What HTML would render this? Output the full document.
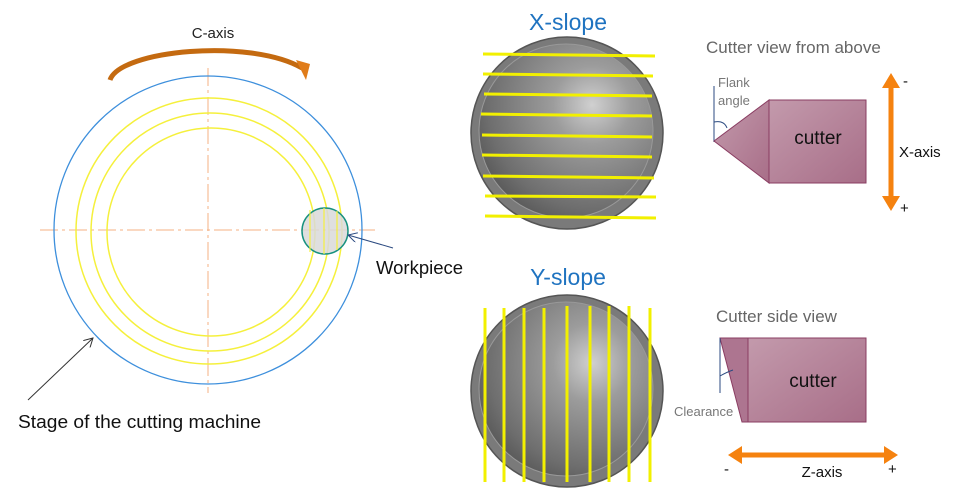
<!DOCTYPE html>
<html><head><meta charset="utf-8"><style>
html,body{margin:0;padding:0;background:#fff;}
svg{display:block;font-family:"Liberation Sans",sans-serif;}
</style></head><body>
<svg width="973" height="492" viewBox="0 0 973 492">
<defs>
<radialGradient id="sph" cx="0.65" cy="0.35" r="0.75">
<stop offset="0" stop-color="#d0d0d0"/><stop offset="0.3" stop-color="#9c9c9c"/><stop offset="0.8" stop-color="#6e6e6e"/><stop offset="1" stop-color="#555"/>
</radialGradient>
<linearGradient id="cut" x1="0" y1="0" x2="1" y2="1">
<stop offset="0" stop-color="#c39aac"/><stop offset="1" stop-color="#a86e88"/>
</linearGradient>
<marker id="ah" markerWidth="10" markerHeight="10" refX="9" refY="5" orient="auto" markerUnits="userSpaceOnUse">
<path d="M0,0 L9,5 L0,10" fill="none" stroke="#333" stroke-width="1"/></marker>
<marker id="ahb" markerWidth="10" markerHeight="10" refX="9" refY="5" orient="auto" markerUnits="userSpaceOnUse">
<path d="M0,0 L9,5 L0,10" fill="none" stroke="#2b4a80" stroke-width="1"/></marker>
</defs>
<line x1="208" y1="68" x2="208" y2="393" stroke="#f4b183" stroke-width="1" stroke-dasharray="18,4,3,4"/>
<line x1="40" y1="230" x2="375" y2="230" stroke="#f4b183" stroke-width="1" stroke-dasharray="18,4,3,4"/>
<circle cx="208" cy="230" r="154" fill="none" stroke="#3d8fdc" stroke-width="1.3"/>
<circle cx="209" cy="231" r="133" fill="none" stroke="#f5f03c" stroke-width="1.5"/>
<circle cx="210" cy="232" r="119" fill="none" stroke="#f5f03c" stroke-width="1.5"/>
<circle cx="211" cy="232" r="104" fill="none" stroke="#f5f03c" stroke-width="1.5"/>
<circle cx="325" cy="231" r="23" fill="#d9d9d9" fill-opacity="0.85" stroke="#18927f" stroke-width="1.5"/>
<line x1="310" y1="210" x2="310" y2="252" stroke="#f5f03c" stroke-width="1.2"/>
<line x1="324" y1="208" x2="324" y2="254" stroke="#f5f03c" stroke-width="1.2"/>
<line x1="337" y1="211" x2="337" y2="250" stroke="#f5f03c" stroke-width="1.2"/>
<path d="M110,80 C120,50 250,38 302,68" fill="none" stroke="#c46a10" stroke-width="5"/>
<path d="M296,60 L306,80 L310,64 Z" fill="#e07c1a"/>
<text x="213" y="38" font-size="15" text-anchor="middle" fill="#222">C-axis</text>
<line x1="393" y1="248" x2="348" y2="235" stroke="#2b4a80" stroke-width="1" marker-end="url(#ahb)"/>
<text x="376" y="274" font-size="18.5" fill="#111">Workpiece</text>
<line x1="28" y1="400" x2="93" y2="338" stroke="#333" stroke-width="1" marker-end="url(#ah)"/>
<text x="18" y="428" font-size="18.5" fill="#111" textLength="243" lengthAdjust="spacingAndGlyphs">Stage of the cutting machine</text>
<text x="568" y="30" font-size="23" text-anchor="middle" fill="#1f73c0">X-slope</text>
<circle cx="567" cy="133" r="96" fill="#7a7a7a" stroke="#555" stroke-width="1.5"/>
<circle cx="566" cy="131" r="87" fill="url(#sph)" stroke="#999"/>
<g stroke="#f2f000" stroke-width="3">
<line x1="483" y1="54" x2="655" y2="56"/><line x1="483" y1="74" x2="653" y2="76"/>
<line x1="484" y1="94" x2="652" y2="96"/><line x1="481" y1="114" x2="652" y2="116"/>
<line x1="482" y1="135" x2="652" y2="137"/><line x1="482" y1="155" x2="652" y2="157"/>
<line x1="483" y1="176" x2="654" y2="178"/><line x1="485" y1="196" x2="656" y2="197"/><line x1="485" y1="216" x2="656" y2="218"/>
</g>
<text x="706" y="53" font-size="17" fill="#666">Cutter view from above</text>
<text x="718" y="87" font-size="13" fill="#777">Flank</text>
<text x="718" y="105" font-size="13" fill="#777">angle</text>
<line x1="714" y1="86" x2="714" y2="142" stroke="#2b4a80" stroke-width="1"/>
<path d="M714,122 Q724,120 727,128" fill="none" stroke="#2b4a80" stroke-width="1"/>
<path d="M714,141 L769,100 L769,183 Z" fill="url(#cut)" stroke="#8a3d62" stroke-width="1"/>
<rect x="769" y="100" width="97" height="83" fill="url(#cut)" stroke="#8a3d62" stroke-width="1"/>
<text x="818" y="144" font-size="19" text-anchor="middle" fill="#111">cutter</text>
<line x1="891" y1="86" x2="891" y2="198" stroke="#f5820f" stroke-width="5"/>
<path d="M882,88 L891,73 L900,88 Z M882,196 L891,211 L900,196 Z" fill="#f5820f"/>
<text x="903" y="86" font-size="15" fill="#111">-</text>
<text x="900" y="213" font-size="15" fill="#111">+</text>
<text x="899" y="157" font-size="15" fill="#111">X-axis</text>
<text x="568" y="285" font-size="23" text-anchor="middle" fill="#1f73c0">Y-slope</text>
<circle cx="567" cy="391" r="96" fill="#7a7a7a" stroke="#555" stroke-width="1.5"/>
<circle cx="566" cy="389" r="87" fill="url(#sph)" stroke="#999"/>
<g stroke="#f2f000" stroke-width="3">
<line x1="485" y1="308" x2="485" y2="482"/><line x1="504" y1="308" x2="504" y2="482"/>
<line x1="524" y1="308" x2="524" y2="482"/><line x1="544" y1="308" x2="544" y2="482"/>
<line x1="567" y1="306" x2="567" y2="482"/><line x1="590" y1="306" x2="590" y2="482"/>
<line x1="609" y1="306" x2="609" y2="482"/><line x1="629" y1="306" x2="629" y2="482"/><line x1="650" y1="308" x2="650" y2="482"/>
</g>
<text x="716" y="322" font-size="17" fill="#666">Cutter side view</text>
<path d="M720,338 L748,338 L748,422 L742,422 Z" fill="#ad7590" stroke="#8a3d62" stroke-width="1"/>
<rect x="748" y="338" width="118" height="84" fill="url(#cut)" stroke="#8a3d62" stroke-width="1"/>
<line x1="720" y1="338" x2="720" y2="393" stroke="#2b4a80" stroke-width="1"/>
<path d="M720,376 Q727,372 733,370" fill="none" stroke="#2b4a80" stroke-width="1"/>
<text x="674" y="416" font-size="13" fill="#777">Clearance</text>
<text x="813" y="387" font-size="19" text-anchor="middle" fill="#111">cutter</text>
<line x1="740" y1="455" x2="886" y2="455" stroke="#f5820f" stroke-width="5"/>
<path d="M742,446 L728,455 L742,464 Z M884,446 L898,455 L884,464 Z" fill="#f5820f"/>
<text x="724" y="474" font-size="15" fill="#111">-</text>
<text x="888" y="474" font-size="15" fill="#111">+</text>
<text x="822" y="477" font-size="15" text-anchor="middle" fill="#111">Z-axis</text>
</svg>
</body></html>
